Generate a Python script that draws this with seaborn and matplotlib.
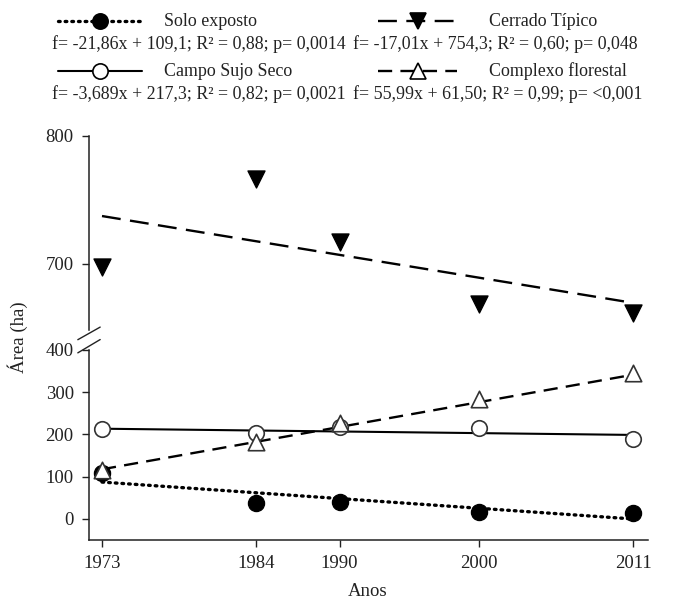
import numpy as np
import pandas as pd
import matplotlib
matplotlib.use("Agg")
import matplotlib.pyplot as plt
from matplotlib.lines import Line2D
import seaborn as sns

# ---- data ----
years = [1973, 1984, 1990, 2000, 2011]
solo_exposto = [108, 38, 40, 16, 13]
campo_sujo_seco = [212, 203, 217, 215, 189]
complexo_florestal = [116, 183, 228, 284, 346]
cerrado_tipico = [697, 766, 717, 668, 661]

# regression coefficients (slope, intercept) with x = 1..5
reg_solo = (-21.86, 109.1)
reg_campo = (-3.689, 217.3)
reg_complexo = (55.99, 61.50)
reg_cerrado = (-17.01, 754.3)

labels = ["Solo exposto", "Cerrado Típico", "Campo Sujo Seco", "Complexo florestal"]
equations = [
    "f= -21,86x + 109,1; R² = 0,88; p= 0,0014",
    "f= -17,01x + 754,3; R² = 0,60; p= 0,048",
    "f= -3,689x + 217,3; R² = 0,82; p= 0,0021",
    "f= 55,99x + 61,50; R² = 0,99; p= <0,001",
]
yticks_low = [0, 100, 200, 300, 400]
yticks_high = [700, 800]

sns.set_style("ticks")
plt.rcParams["font.family"] = ["Liberation Serif", "DejaVu Serif"]
plt.rcParams["text.color"] = "#222222"
plt.rcParams["axes.labelcolor"] = "#222222"
plt.rcParams["xtick.color"] = "#222222"
plt.rcParams["ytick.color"] = "#222222"

FS = 13.5
FSL = 12.9
W, H = 681.0, 611.0
fig = plt.figure(figsize=(6.81, 6.11), dpi=100)
ax_lo = fig.add_axes([89 / W, 1 - 540 / H, (648 - 89) / W, (540 - 350) / H])
ax_hi = fig.add_axes([89 / W, 1 - 330 / H, (648 - 89) / W, (330 - 136) / H], sharex=ax_lo)

idx = np.arange(1, len(years) + 1)
t_ends = np.array([idx[0], idx[-1]])
yr_ends = np.array([years[0], years[-1]])


def reg_df(coef):
    return pd.DataFrame({"x": yr_ends, "y": coef[0] * t_ends + coef[1]})


# lower panel
sns.lineplot(data=reg_df(reg_solo), x="x", y="y", ax=ax_lo, color="black",
             lw=2.4, ls=(0, (0.5, 1.5)), dash_capstyle="round")
sns.lineplot(data=reg_df(reg_campo), x="x", y="y", ax=ax_lo, color="black", lw=1.5)
sns.lineplot(data=reg_df(reg_complexo), x="x", y="y", ax=ax_lo, color="black",
             lw=1.7, ls=(0, (6, 3.5)))

df_solo = pd.DataFrame({"x": years, "y": solo_exposto})
df_campo = pd.DataFrame({"x": years, "y": campo_sujo_seco})
df_comp = pd.DataFrame({"x": years, "y": complexo_florestal})
df_cer = pd.DataFrame({"x": years, "y": cerrado_tipico})

sns.scatterplot(data=df_solo, x="x", y="y", ax=ax_lo, marker="o", s=135,
                color="black", edgecolor="black", zorder=3)
sns.scatterplot(data=df_campo, x="x", y="y", ax=ax_lo, marker="o", s=125,
                facecolor="white", edgecolor="#333333", linewidth=1.2, zorder=4)
sns.scatterplot(data=df_comp, x="x", y="y", ax=ax_lo, marker="^", s=140,
                facecolor="white", edgecolor="#333333", linewidth=1.2, zorder=5)

# upper panel
sns.lineplot(data=reg_df(reg_cerrado), x="x", y="y", ax=ax_hi, color="black",
             lw=1.7, ls=(0, (8, 4)))
sns.scatterplot(data=df_cer, x="x", y="y", ax=ax_hi, marker="v", s=150,
                color="black", edgecolor="black", zorder=3)

ax_lo.set_xlim(1972.07, 2012.07)
ax_lo.set_ylim(-50, 400)
ax_hi.set_ylim(648, 800)

ax_lo.set_xticks(years)
ax_lo.set_xticklabels([str(y) for y in years], fontsize=FS)
ax_lo.set_yticks(yticks_low)
ax_lo.set_yticklabels([str(v) for v in yticks_low], fontsize=FS)
ax_hi.set_yticks(yticks_high)
ax_hi.set_yticklabels([str(v) for v in yticks_high], fontsize=FS)

for a in (ax_lo, ax_hi):
    a.set_xlabel("")
    a.set_ylabel("")
    a.spines["top"].set_visible(False)
    a.spines["right"].set_visible(False)
    for s in ("left", "bottom"):
        a.spines[s].set_linewidth(1.1)
        a.spines[s].set_color("#222222")
    a.tick_params(direction="out", length=5, width=1.0, pad=6)
    if a.get_legend():
        a.get_legend().remove()

ax_hi.spines["bottom"].set_visible(False)
ax_hi.tick_params(axis="x", which="both", bottom=False, labelbottom=False)

# break marks
kw = dict(color="#222222", lw=1.0, clip_on=False)
ax_lo.plot([-0.02, 0.02], [0.985, 1.055], transform=ax_lo.transAxes, **kw)
ax_hi.plot([-0.02, 0.02], [-0.05, 0.015], transform=ax_hi.transAxes, **kw)

fig.text(368 / W, 1 - 592 / H, "Anos", fontsize=FS, ha="center", va="center")
fig.text(18 / W, 1 - 337 / H, "Área (ha)", fontsize=FS, ha="center", va="center", rotation=90)

# legend (manual, two columns with equations)
rows_y = [21, 21, 71, 71]
eq_y = [44, 44, 94, 94]
hx0 = [58, 378, 58, 378]
hx1 = [142, 457, 142, 457]
lab_x = [164, 489, 164, 489]
eq_x = [52, 353, 52, 353]
styles = [
    dict(ls=(0, (0.5, 1.5)), lw=2.4, marker="o", mfc="black", dash_capstyle="round"),
    dict(ls=(0, (8, 4)), lw=1.7, marker="v", mfc="black"),
    dict(ls="-", lw=1.5, marker="o", mfc="white"),
    dict(ls=(0, (6, 3.5)), lw=1.7, marker="^", mfc="white"),
]
for i in range(4):
    st = styles[i]
    yy = 1 - rows_y[i] / H
    fig.add_artist(Line2D([hx0[i] / W, hx1[i] / W], [yy, yy], transform=fig.transFigure,
                          color="black", ls=st["ls"], lw=st["lw"],
                          dash_capstyle=st.get("dash_capstyle", "butt")))
    fig.add_artist(Line2D([(hx0[i] + hx1[i]) / 2 / W], [yy], transform=fig.transFigure,
                          marker=st["marker"], ms=11, mfc=st["mfc"], mec="black",
                          mew=1.2, ls="none"))
    fig.text(lab_x[i] / W, yy, labels[i], fontsize=FSL, ha="left", va="center")
    fig.text(eq_x[i] / W, 1 - eq_y[i] / H, equations[i], fontsize=FSL, ha="left", va="center")

fig.savefig("out.png", dpi=100)
